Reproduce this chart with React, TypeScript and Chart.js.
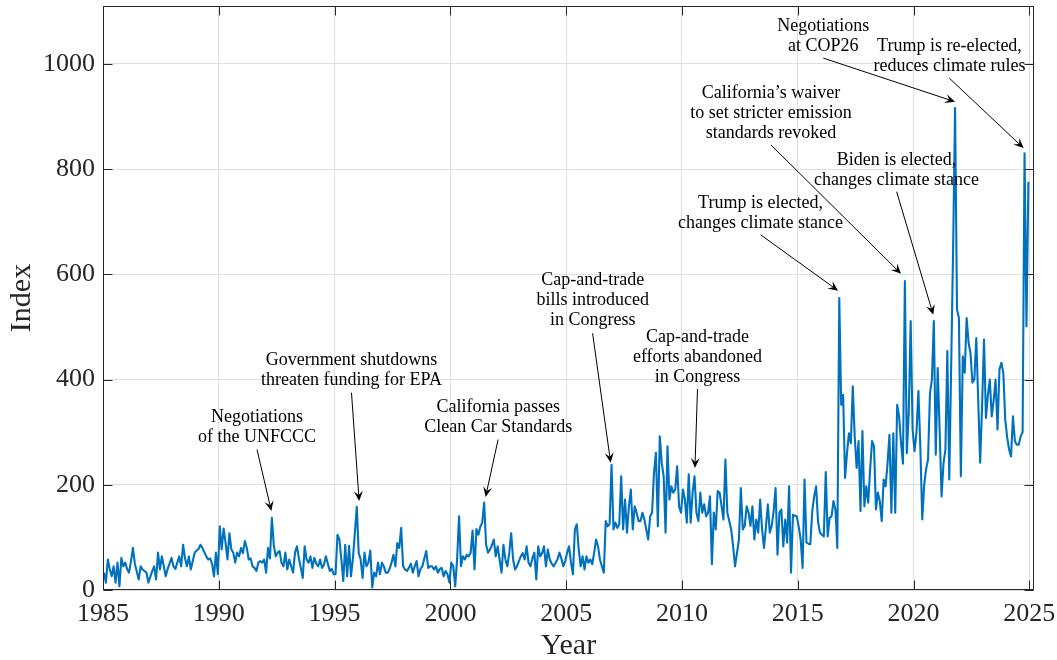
import React, { useEffect, useRef } from "react";
import { Chart, registerables } from "chart.js";

Chart.register(...registerables);

// Monthly index values, January to December of each year, one decade per array
const index1985to1994 = [
  33, 14, 58, 40, 26, 45, 14, 52, 7, 61, 45, 52,
  40, 33, 55, 80, 50, 35, 20, 45, 39, 36, 33, 14,
  25, 36, 45, 20, 71, 39, 64, 45, 26, 40, 50, 61,
  45, 40, 52, 64, 45, 86, 60, 45, 64, 39, 55, 71,
  75, 78, 86, 80, 72, 64, 58, 60, 50, 26, 71, 30,
  121, 77, 117, 90, 58, 108, 77, 71, 52, 71, 64, 80,
  70, 93, 80, 58, 60, 45, 42, 36, 52, 55, 52, 58,
  33, 80, 60, 137, 85, 64, 71, 74, 52, 45, 71, 39,
  58, 45, 33, 71, 83, 60, 42, 23, 83, 58, 52, 64,
  42, 61, 50, 45, 58, 42, 48, 64, 50, 36, 40, 30,
];
const index1995to2004 = [
  30, 105, 96, 58, 17, 86, 26, 84, 26, 60, 108, 158,
  70, 58, 23, 71, 45, 52, 75, 5, 33, 26, 52, 30,
  52, 45, 33, 33, 40, 52, 67, 45, 89, 80, 118, 45,
  39, 36, 42, 50, 33, 45, 55, 26, 40, 45, 60, 74,
  42, 45, 45, 39, 45, 33, 40, 42, 26, 36, 30, 14,
  52, 45, 7, 60, 140, 45, 64, 58, 67, 64, 71, 113,
  39, 116, 105, 120, 128, 166, 86, 71, 77, 85, 96, 64,
  83, 58, 33, 86, 58, 45, 70, 108, 58, 39, 45, 55,
  64, 70, 58, 83, 52, 45, 60, 71, 20, 83, 64, 70,
  83, 45, 77, 58, 50, 45, 52, 58, 71, 60, 45, 55,
];
const index2005to2014 = [
  71, 83, 52, 30, 115, 125, 77, 45, 64, 39, 64, 52,
  58, 49, 71, 96, 83, 58, 45, 33, 131, 121, 125, 238,
  115, 128, 118, 125, 216, 115, 172, 109, 159, 191, 115, 159,
  147, 131, 131, 147, 134, 115, 96, 140, 147, 223, 261, 121,
  292, 242, 216, 109, 273, 172, 197, 185, 191, 235, 159, 147,
  191, 172, 128, 220, 128, 185, 216, 147, 131, 185, 147, 163,
  140, 147, 178, 49, 147, 115, 188, 185, 160, 134, 248, 147,
  131, 115, 83, 45, 70, 96, 194, 115, 122, 159, 147, 122,
  159, 96, 134, 109, 172, 115, 80, 120, 163, 109, 122, 150,
  194, 67, 147, 153, 83, 134, 90, 197, 33, 143, 141, 140,
];
const index2015to2024 = [
  120, 96, 42, 210, 90, 88, 87, 150, 178, 197, 130, 109,
  105, 102, 224, 102, 137, 140, 169, 153, 80, 555, 352, 371,
  213, 260, 298, 279, 387, 292, 232, 283, 150, 302, 159, 197,
  166, 230, 283, 273, 153, 185, 169, 131, 210, 197, 240, 295,
  147, 298, 147, 352, 330, 280, 240, 587, 260, 337, 511, 305,
  264, 299, 378, 273, 134, 200, 230, 248, 374, 400, 511, 257,
  422, 305, 178, 240, 267, 454, 210, 430, 650, 916, 533, 517,
  216, 444, 413, 517, 470, 450, 394, 400, 479, 360, 242, 350,
  476, 327, 370, 400, 330, 360, 400, 305, 419, 432, 413, 324,
  290, 267, 254, 330, 283, 276, 276, 292, 300, 830, 501, 776,
];

const startYear = 1985;
const xTicks = [1985, 1990, 1995, 2000, 2005, 2010, 2015, 2020, 2025];
const yTicks = [0, 200, 400, 600, 800, 1000];
const xLimits = [1985, 2025.2];
const yLimits = [0, 1110];

// Event notes: text lines, text centre (year, index), arrow tail and head (year, index)
type Note = { lines: string[]; at: [number, number]; from: [number, number]; to: [number, number] };
const notes: Note[] = [
  { lines: ["Negotiations", "of the UNFCCC"], at: [1991.65, 328], from: [1991.65, 267], to: [1992.27, 150] },
  { lines: ["Government shutdowns", "threaten funding for EPA"], at: [1995.73, 436], from: [1995.73, 375], to: [1996.06, 169] },
  { lines: ["California passes", "Clean Car Standards"], at: [2002.07, 347], from: [2002.06, 286], to: [2001.52, 177] },
  { lines: ["Cap-and-trade", "bills introduced", "in Congress"], at: [2006.15, 588], from: [2006.14, 488], to: [2006.92, 242] },
  { lines: ["Cap-and-trade", "efforts abandoned", "in Congress"], at: [2010.67, 480], from: [2010.67, 382], to: [2010.56, 232] },
  { lines: ["Trump is elected,", "changes climate stance"], at: [2013.39, 735], from: [2013.4, 675], to: [2016.74, 569] },
  { lines: ["California\u2019s waiver", "to set stricter emission", "standards revoked"], at: [2013.84, 944], from: [2013.84, 846], to: [2019.46, 601] },
  { lines: ["Biden is elected,", "changes climate stance"], at: [2019.26, 816], from: [2019.27, 757], to: [2020.85, 523] },
  { lines: ["Negotiations", "at COP26"], at: [2016.1, 1071], from: [2016.1, 1011], to: [2021.79, 928] },
  { lines: ["Trump is re-elected,", "reduces climate rules"], at: [2021.55, 1033], from: [2021.54, 973], to: [2024.75, 840] },
];

const FONT = '"Liberation Serif", "Times New Roman", serif';
const AXIS_COLOR = "#262626";

const framePlugin = {
  id: "frameAndNotes",
  afterDatasetsDraw(chart: any) {
    const { ctx, chartArea: a, scales } = chart;
    const x = scales.x;
    const y = scales.y;
    ctx.save();

    // notes with arrows
    ctx.font = `18px ${FONT}`;
    ctx.fillStyle = "#000";
    ctx.strokeStyle = "#000";
    ctx.textAlign = "center";
    ctx.textBaseline = "middle";
    for (const n of notes) {
      const cx = x.getPixelForValue(n.at[0]);
      const cy = y.getPixelForValue(n.at[1]);
      n.lines.forEach((t, k) => ctx.fillText(t, cx, cy + k * 20));

      const x0 = x.getPixelForValue(n.from[0]);
      const y0 = y.getPixelForValue(n.from[1]);
      const x1 = x.getPixelForValue(n.to[0]);
      const y1 = y.getPixelForValue(n.to[1]);
      const ang = Math.atan2(y1 - y0, x1 - x0);
      const c = Math.cos(ang);
      const s = Math.sin(ang);
      const L = 10;
      const W = 4.5;
      ctx.lineWidth = 1;
      ctx.beginPath();
      ctx.moveTo(x0, y0);
      ctx.lineTo(x1 - c * L * 0.6, y1 - s * L * 0.6);
      ctx.stroke();
      ctx.beginPath();
      ctx.moveTo(x1, y1);
      ctx.lineTo(x1 - L * c + W * s, y1 - L * s - W * c);
      ctx.lineTo(x1 - 0.6 * L * c, y1 - 0.6 * L * s);
      ctx.lineTo(x1 - L * c - W * s, y1 - L * s + W * c);
      ctx.closePath();
      ctx.fill();
    }

    // axes box with inward ticks on all four sides
    const l = Math.round(a.left) + 0.5;
    const r = Math.round(a.right) - 0.5;
    const t = Math.round(a.top) + 0.5;
    const b = Math.round(a.bottom) - 0.5;
    const tl = 9;
    ctx.strokeStyle = AXIS_COLOR;
    ctx.lineWidth = 1;
    ctx.beginPath();
    for (const v of xTicks) {
      const px = Math.round(x.getPixelForValue(v)) + 0.5;
      ctx.moveTo(px, b);
      ctx.lineTo(px, b - tl);
      ctx.moveTo(px, t);
      ctx.lineTo(px, t + tl);
    }
    for (const v of yTicks) {
      const py = Math.round(y.getPixelForValue(v)) + 0.5;
      ctx.moveTo(l, py);
      ctx.lineTo(l + tl, py);
      ctx.moveTo(r, py);
      ctx.lineTo(r - tl, py);
    }
    ctx.stroke();
    ctx.strokeRect(l, t, r - l, b - t);
    ctx.restore();
  },
};

// Fixed axis band sizes, and no extra room reserved for overhanging labels
function fixBand(size: number, horizontal: boolean) {
  return (scale: any) => {
    if (horizontal) scale.height = size;
    else scale.width = size;
    scale.paddingTop = 0;
    scale.paddingBottom = 0;
    scale.paddingLeft = 0;
    scale.paddingRight = 0;
  };
}

export default function App() {
  const canvasRef = useRef<HTMLCanvasElement | null>(null);

  useEffect(() => {
    const canvas = canvasRef.current;
    if (!canvas) return;
    const values = [...index1985to1994, ...index1995to2004, ...index2005to2014, ...index2015to2024];
    const points = values.map((v, i) => ({ x: startYear + (i + 0.5) / 12, y: v }));

    const chart = new Chart(canvas, {
      type: "line",
      data: {
        datasets: [
          {
            data: points,
            borderColor: "#0072BD",
            borderWidth: 2.1,
            pointRadius: 0,
            tension: 0,
            borderJoinStyle: "round",
            fill: false,
          },
        ],
      },
      options: {
        responsive: false,
        animation: false,
        events: [],
        layout: { padding: { top: 6, right: 23, left: 0, bottom: 0 } },
        plugins: { legend: { display: false }, tooltip: { enabled: false } },
        scales: {
          x: {
            type: "linear",
            min: xLimits[0],
            max: xLimits[1],
            afterBuildTicks: (scale: any) => {
              scale.ticks = xTicks.map((v) => ({ value: v }));
            },
            afterFit: fixBand(70, true),
            grid: { color: "#e0e0e0", lineWidth: 1, drawTicks: false },
            border: { display: false },
            ticks: {
              color: AXIS_COLOR,
              font: { family: FONT, size: 26 },
              padding: 9,
              maxRotation: 0,
              autoSkip: false,
              callback: (v: any) => String(v),
            },
            title: {
              display: true,
              text: "Year",
              color: AXIS_COLOR,
              font: { family: FONT, size: 30, lineHeight: 0.9 },
              padding: { top: 0, bottom: 0 },
            },
          },
          y: {
            type: "linear",
            min: yLimits[0],
            max: yLimits[1],
            afterBuildTicks: (scale: any) => {
              scale.ticks = yTicks.map((v) => ({ value: v }));
            },
            afterFit: fixBand(103, false),
            grid: { color: "#e0e0e0", lineWidth: 1, drawTicks: false },
            border: { display: false },
            ticks: {
              color: AXIS_COLOR,
              font: { family: FONT, size: 26 },
              padding: 8,
              autoSkip: false,
              callback: (v: any) => String(v),
            },
            title: {
              display: true,
              text: "Index",
              color: AXIS_COLOR,
              font: { family: FONT, size: 30, lineHeight: 1 },
              padding: { top: 7, bottom: 0 },
            },
          },
        },
      },
      plugins: [framePlugin],
    });

    return () => chart.destroy();
  }, []);

  return (
    <div style={{ position: "fixed", left: 0, top: 0, width: 1057, height: 660, background: "#fff" }}>
      <canvas ref={canvasRef} width={1057} height={660} style={{ display: "block", width: 1057, height: 660 }} />
    </div>
  );
}
